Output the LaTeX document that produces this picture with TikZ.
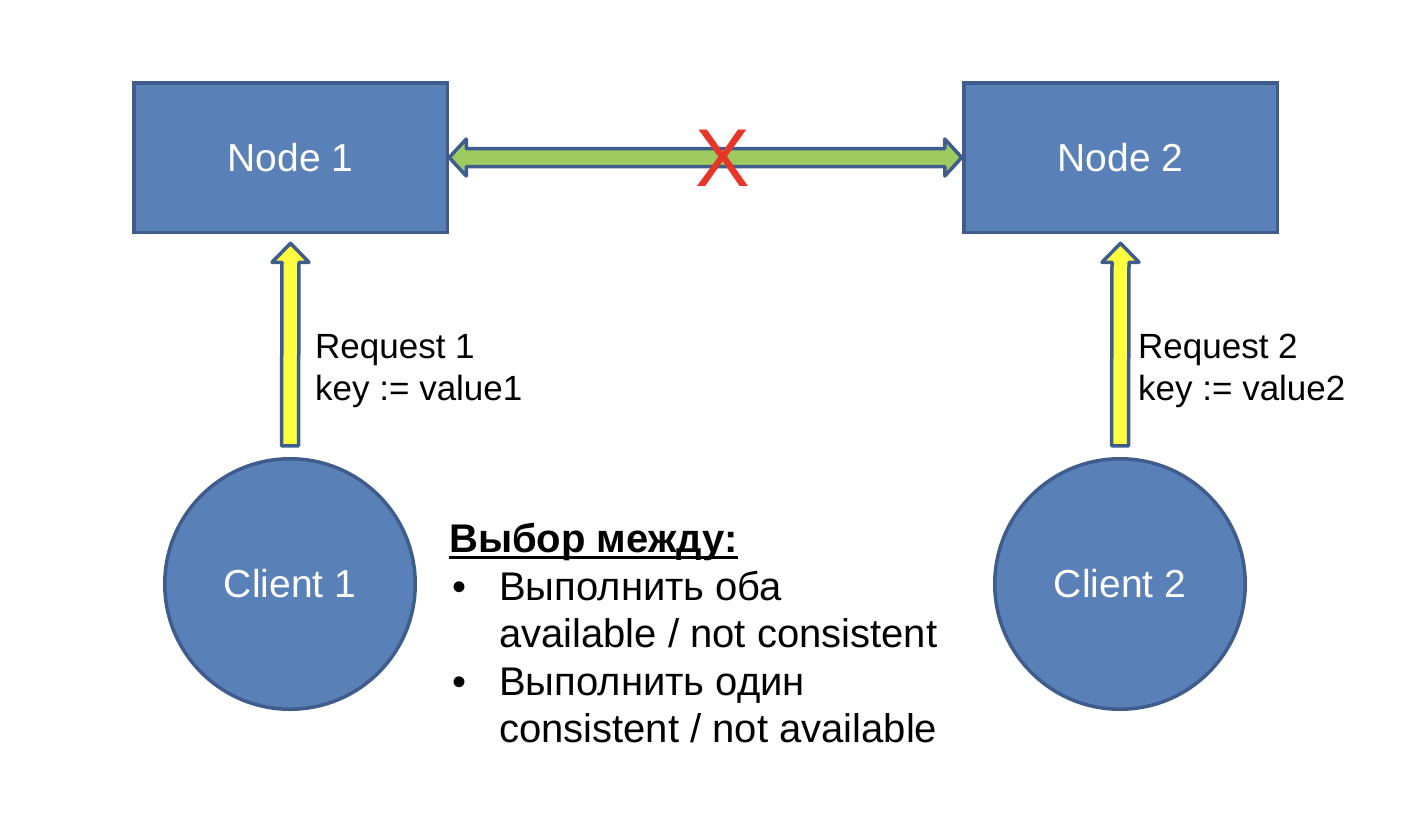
\documentclass[tikz,border=0pt]{standalone}
\usepackage{fontspec}
\setmainfont{Liberation Sans}
\usetikzlibrary{calc}
\definecolor{nodefill}{HTML}{5A80B8}
\definecolor{nodeborder}{HTML}{3E5D8C}
\definecolor{arrowgreen}{HTML}{9DCB60}
\definecolor{arrowyellow}{HTML}{FFFF40}
\definecolor{crossred}{HTML}{E8352A}
\newcommand\myul[1]{\setbox0\hbox{#1}\rlap{\rule[-6pt]{\wd0}{3pt}}\box0}
\tikzset{
  server/.style={draw=nodeborder, fill=nodefill, line width=3.5pt, rectangle,
    minimum width=313.5pt, minimum height=149.5pt, inner sep=0pt, outer sep=0pt,
    text=white, font=\fontsize{39}{46}\selectfont},
  client/.style={draw=nodeborder, fill=nodefill, line width=3.5pt, circle,
    minimum size=250.5pt, inner sep=0pt, outer sep=0pt,
    text=white, font=\fontsize{39}{46}\selectfont},
  blockarrow/.style={draw=nodeborder, line width=3.5pt, line join=round},
  reqlabel/.style={anchor=north west, align=left, inner sep=0pt,
    font=\fontsize{35}{42}\selectfont},
}
\begin{document}
\begin{tikzpicture}[x=1pt, y=-1pt]
\useasboundingbox (0,0) rectangle (1414,820);
\node[server] (n1) at (290.5,157.5) {Node 1};
\node[server] (n2) at (1120.5,157.5) {Node 2};
\node[client] (c1) at (290,584) {Client 1};
\node[client] (c2) at (1120,584) {Client 2};

% green double arrow between nodes
\coordinate (gl) at ($(n1.east)+(2,0)$);
\coordinate (gr) at ($(n2.west)+(-2,0)$);
\draw[blockarrow, fill=arrowgreen]
  (gl) -- ($(gl)+(17,-18.5)$) -- ($(gl)+(17,-9)$) -- ($(gr)+(-17,-9)$)
  -- ($(gr)+(-17,-18.5)$) -- (gr) -- ($(gr)+(-17,18.5)$) -- ($(gr)+(-17,9)$)
  -- ($(gl)+(17,9)$) -- ($(gl)+(17,18.5)$) -- cycle;

% yellow request arrows
\foreach \c/\n in {c1/n1, c2/n2}{
  \coordinate (tip) at ($(\n.south)+(0,11)$);
  \coordinate (base) at ($(\c.north)+(0,-13)$);
  \draw[blockarrow, fill=arrowyellow]
    (tip) -- ($(tip)+(18.5,19)$) -- ($(tip)+(8.5,19)$) -- ($(base)+(8.5,0)$)
    -- ($(base)+(-8.5,0)$) -- ($(tip)+(-8.5,19)$) -- ($(tip)+(-18.5,19)$) -- cycle;
}

% red cross
\node[inner sep=0pt, text=crossred, font=\fontsize{82}{90}\selectfont] (x) at (723,158) {X};

% labels
\node[reqlabel] (r1) at (315,334) {Request 1\\key := value1};
\node[reqlabel] (r2) at (1138,334) {Request 2\\key := value2};

\node[anchor=north west, align=left, inner sep=0pt,
  font=\fontsize{40}{47.5}\selectfont] (choice) at (449,523)
  {\myul{\textbf{Выбор между:}}\\
   \makebox[50pt][l]{\hspace{3pt}•}Выполнить оба\\
   \hspace*{50pt}available / not consistent\\
   \makebox[50pt][l]{\hspace{3pt}•}Выполнить один\\
   \hspace*{50pt}consistent / not available};
\end{tikzpicture}
\end{document}
